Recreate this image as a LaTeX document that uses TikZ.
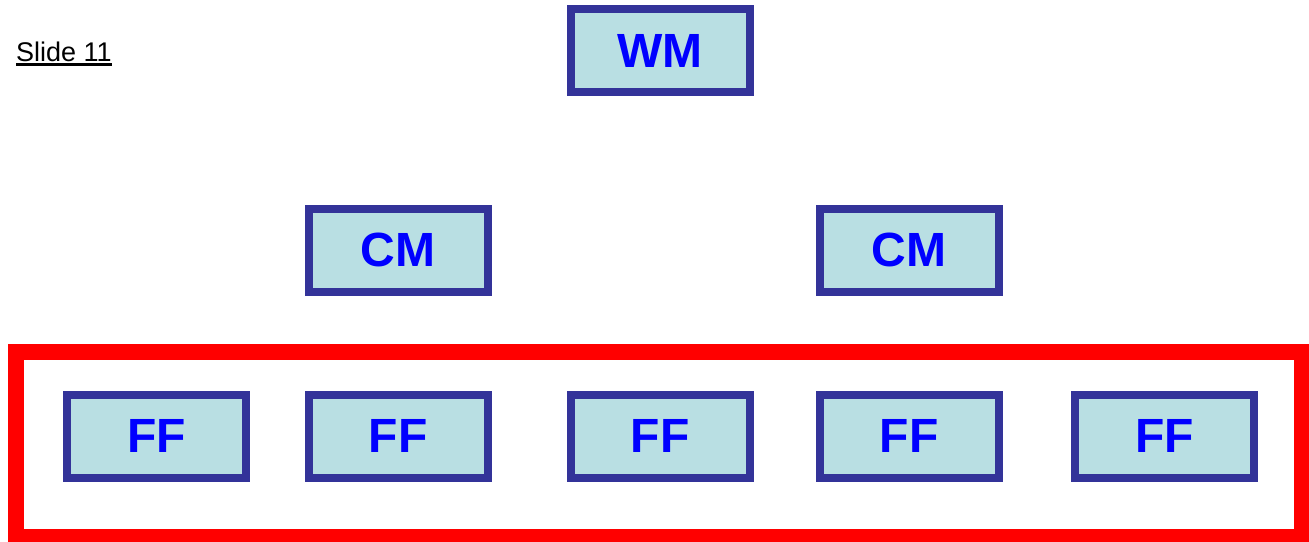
\documentclass[tikz,border=0pt]{standalone}
\usepackage{fontspec}
\setmainfont{Liberation Sans}
\definecolor{boxline}{HTML}{333399}
\definecolor{boxfill}{HTML}{B9DFE3}
\definecolor{boxtext}{HTML}{0000FF}
\definecolor{framered}{HTML}{FF0000}
\begin{document}
\begin{tikzpicture}[x=1pt,y=-1pt,
  unit/.style={draw=boxline, fill=boxfill, line width=8pt, rectangle,
    minimum width=179pt, minimum height=83pt, inner sep=0pt,
    text=boxtext, font=\fontsize{48}{48}\selectfont\bfseries},
  redframe/.style={draw=framered, line width=16pt, rectangle, inner sep=0pt,
    minimum width=1286pt, minimum height=185pt}]
\useasboundingbox (0,0) rectangle (1309,541);
\node[redframe] (frame) at (659,444.5) {};
\node[anchor=base west, inner sep=0pt, font=\fontsize{27}{27}\selectfont] (title) at (16,61) {Slide 11};
\draw[line width=2.2pt] ([yshift=-3.5pt]title.base west) -- ([yshift=-3.5pt]title.base east);
\node[unit] (wm) at (660,50.5) {WM};
\node[unit] (cm1) at (398,250) {CM};
\node[unit] (cm2) at (909,250) {CM};
\node[unit] (ff1) at (156.5,436) {FF};
\node[unit] (ff2) at (398,436) {FF};
\node[unit] (ff3) at (660,436) {FF};
\node[unit] (ff4) at (909,436) {FF};
\node[unit] (ff5) at (1164.5,436) {FF};
\end{tikzpicture}
\end{document}
